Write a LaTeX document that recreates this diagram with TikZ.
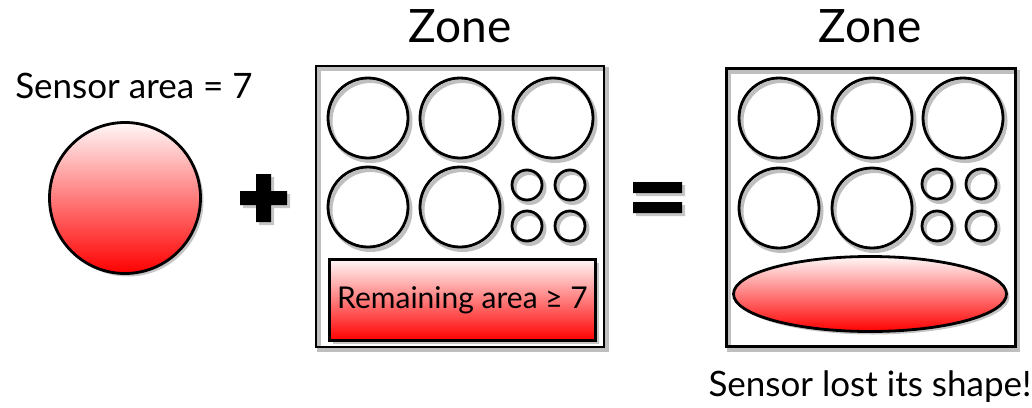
\documentclass[tikz,border=0pt]{standalone}
\usepackage{fontspec}
\setmainfont{Lato}
\usetikzlibrary{shapes,shadows}
\tikzstyle{ringshadow}=[general shadow={draw=black!25,line width=4pt,shadow xshift=2.5pt,shadow yshift=-3pt}]
\tikzstyle{slot}=[circle,draw,line width=2.8pt,ringshadow,inner sep=0pt]
\tikzstyle{bigslot}=[slot,minimum size=80pt]
\tikzstyle{smallslot}=[slot,minimum size=30pt]
\tikzstyle{zonebox}=[draw,line width=2.8pt,ringshadow,inner sep=0pt]
\tikzstyle{redfill}=[draw,line width=2.8pt,top color=red!3,bottom color=red,inner sep=0pt,
                     drop shadow={opacity=0.45,shadow xshift=3pt,shadow yshift=-3pt}]
\tikzstyle{sign}=[fill=black,drop shadow={opacity=0.45,shadow xshift=3pt,shadow yshift=-3pt}]
\tikzstyle{txt}=[font=\fontsize{35}{40}\selectfont,inner sep=0pt,anchor=base]
\tikzstyle{zonetitle}=[font=\fontsize{46}{52}\selectfont,inner sep=0pt,anchor=base]

\begin{document}
\begin{tikzpicture}[x=1pt,y=-1pt]
    \useasboundingbox (0,0) rectangle (1032,407);
    % The sensor on its own
    \node[txt] (sensortxt) at (134,98) {Sensor area = 7};
    \node[redfill,circle,minimum size=151pt] (sensor) at (125,198) {};
    % plus and equals signs
    \fill[sign] (256,174) -- (271,174) -- (271,191) -- (287,191) -- (287,205)
        -- (271,205) -- (271,222) -- (256,222) -- (256,205) -- (240,205) -- (240,191)
        -- (256,191) -- cycle;
    \fill[sign] (633,182) rectangle (682,193) (633,202) rectangle (682,213);
    % First zone: the free slots and what is left
    \node[zonetitle] (title) at (460,42) {Zone};
    \node[zonebox,minimum width=288pt,minimum height=281pt] (zone) at (460,206.5) {};
    \foreach \pos/\name in {{(368,118)/a}, {(460,118)/b}, {(553,118)/c},
                            {(368,207)/d}, {(460,207)/e}}
        \node[bigslot] (\name) at \pos {};
    \foreach \pos/\name in {{(527,185)/f}, {(570,185)/g}, {(527,226)/h}, {(570,226)/i}}
        \node[smallslot] (\name) at \pos {};
    \node[redfill,rectangle,minimum width=266pt,minimum height=81pt] (rest) at (462.5,300) {};
    \node[txt,font=\fontsize{30}{36}\selectfont] (resttxt) at (462.5,308) {Remaining area ≥ 7};
    % Second zone: the sensor squeezed in
    \node[zonetitle] (titlebis) at (870,42) {Zone};
    \node[zonebox,minimum width=289pt,minimum height=278pt] (zonebis) at (871,207.5) {};
    \foreach \pos/\name in {{(779,118)/a2}, {(872,118)/b2}, {(963,118)/c2},
                            {(779,208)/d2}, {(872,208)/e2}}
        \node[bigslot] (\name) at \pos {};
    \foreach \pos/\name in {{(937,184)/f2}, {(981,184)/g2}, {(937,226)/h2}, {(981,226)/i2}}
        \node[smallslot] (\name) at \pos {};
    \node[redfill,ellipse,minimum width=273pt,minimum height=75pt] (squeezed) at (870,294) {};
    \node[txt] (losttxt) at (870,396) {Sensor lost its shape!};
\end{tikzpicture}
\end{document}
